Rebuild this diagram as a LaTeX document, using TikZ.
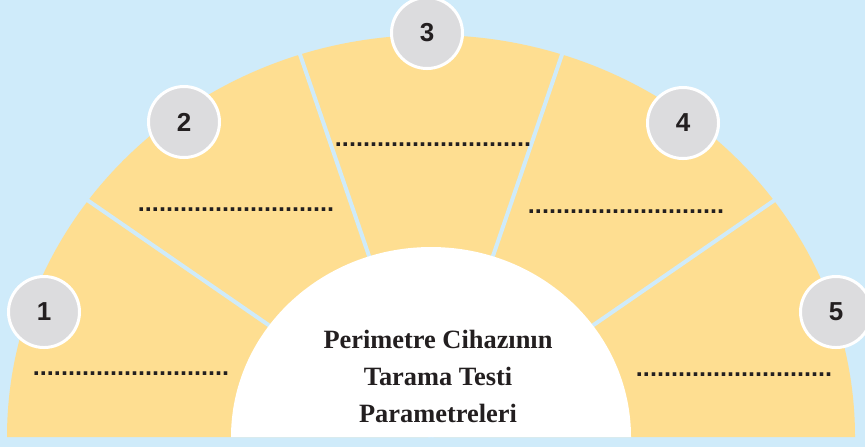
\documentclass[tikz,border=0pt]{standalone}
\usepackage{fontspec}
\setmainfont{Liberation Serif}
\newfontfamily\numfont{Liberation Sans}
\definecolor{skyfill}{HTML}{CFEBFA}
\definecolor{fanfill}{HTML}{FEDE91}
\definecolor{badgefill}{HTML}{DCDCDE}
\definecolor{inkdark}{HTML}{231F20}
\tikzset{
  badge/.style={circle, fill=badgefill, draw=white, line width=1.5pt, minimum size=35.5pt, inner sep=0pt, text=inkdark, font=\numfont\bfseries\fontsize{13}{13}\selectfont},
  blank/.style={inner sep=0pt, anchor=base, text=inkdark, font=\numfont\bfseries\fontsize{12.6}{12.6}\selectfont},
  divider/.style={draw=skyfill, line width=2pt},
  core-title/.style={align=center, text=inkdark, font=\bfseries\fontsize{13.2}{18.5}\selectfont}
}
\newcommand{\dotrow}{............................}

\begin{document}
\begin{tikzpicture}[x=0.5pt, y=-0.5pt]

\fill[skyfill] (0,0) rectangle (865,447);
\useasboundingbox (0,0) rectangle (865,447);
\clip (0,0) rectangle (865,447);

% fan and its five segments
\fill[fanfill] (855,437) arc[start angle=0, end angle=180, x radius=212pt, y radius=201pt] -- cycle;
\foreach \a in {36,72,108,144}
  \draw[divider] (431,437) -- ({431+430*cos(\a)},{437-408*sin(\a)});
\fill[white] (631,437) arc[start angle=0, end angle=180, x radius=100pt, y radius=95pt] -- cycle;

\node[core-title] (core) at (438,376) {Perimetre Cihazının\\Tarama Testi\\Parametreleri};

\node[blank] (blank1) at (131,375) {\dotrow};
\node[blank] (blank2) at (236,211) {\dotrow};
\node[blank] (blank3) at (433,146) {\dotrow};
\node[blank] (blank4) at (626,213) {\dotrow};
\node[blank] (blank5) at (734,376) {\dotrow};

\node[badge] (n1) at (44,312) {1};
\node[badge] (n2) at (184,122) {2};
\node[badge] (n3) at (427,33) {3};
\node[badge] (n4) at (683,123) {4};
\node[badge] (n5) at (836,312) {5};

\end{tikzpicture}
\end{document}
